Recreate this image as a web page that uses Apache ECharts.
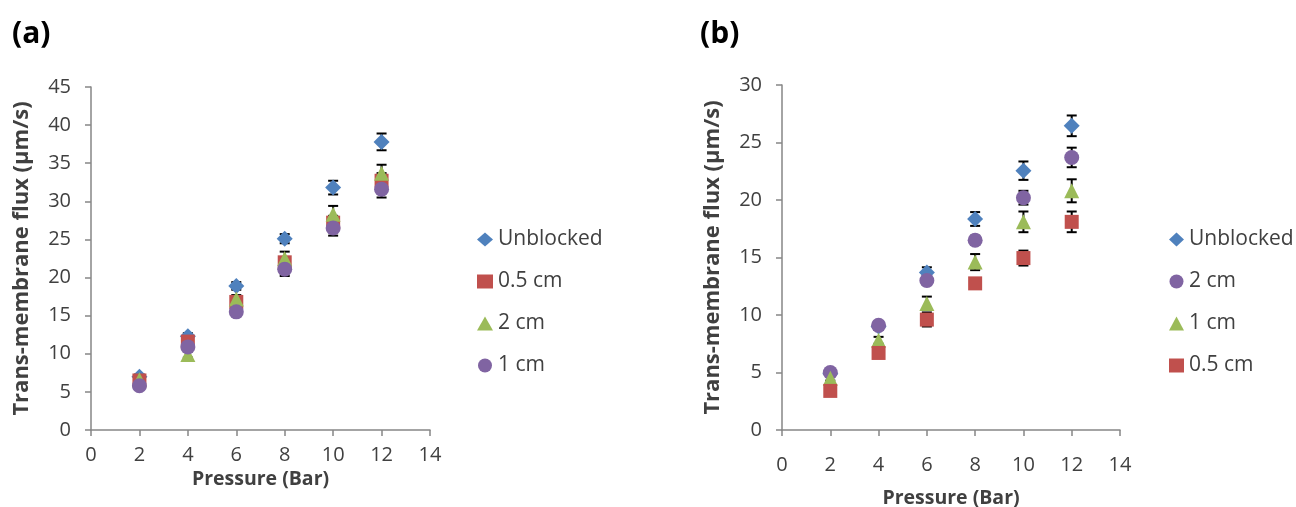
<!DOCTYPE html>
<html>
<head>
<meta charset="utf-8">
<script src="https://cdn.jsdelivr.net/npm/echarts@6/dist/echarts.min.js"></script>
<style>
  html, body { margin: 0; padding: 0; background: #fff; }
  #main { width: 1296px; height: 507px; }
</style>
</head>
<body>
<div id="main"></div>
<script>
// pressure (Bar)
var pressure = [2, 4, 6, 8, 10, 12];

// panel (a) flux values (um/s)
var aUnblocked = [7.0, 12.3, 18.9, 25.1, 31.8, 37.8];
var aHalf = [6.5, 11.6, 16.8, 22.0, 27.2, 32.7];
var aTwo = [6.6, 9.9, 17.2, 22.5, 28.3, 33.7];
var aOne = [5.8, 10.9, 15.5, 21.1, 26.5, 31.6];
// panel (a) error bars (+/-)
var aUnblockedErr = [0.3, 0.4, 0.5, 0.6, 0.9, 1.1];
var aHalfErr = [0.3, 0.4, 0.5, 0.7, 0.9, 1.0];
var aTwoErr = [0.3, 0.4, 0.5, 0.9, 1.1, 1.1];
var aOneErr = [0.3, 0.4, 0.5, 0.9, 1.0, 1.1];

// panel (b) flux values (um/s)
var bUnblocked = [4.9, 9.0, 13.7, 18.35, 22.55, 26.45];
var bTwo = [5.0, 9.1, 13.0, 16.5, 20.2, 23.7];
var bOne = [4.5, 7.8, 11.0, 14.6, 18.1, 20.8];
var bHalf = [3.4, 6.7, 9.6, 12.75, 14.95, 18.1];
// panel (b) error bars (+/-)
var bUnblockedErr = [0.2, 0.3, 0.45, 0.6, 0.8, 0.9];
var bTwoErr = [0.2, 0.3, 0.4, 0.4, 0.6, 0.85];
var bOneErr = [0.2, 0.3, 0.6, 0.7, 0.9, 1.0];
var bHalfErr = [0.2, 0.3, 0.6, 0.45, 0.65, 0.9];

var legendA = ['Unblocked', '0.5 cm', '2 cm', '1 cm'];
var legendB = ['Unblocked', '2 cm', '1 cm', '0.5 cm'];

var xTicks = { min: 0, max: 14, interval: 2 };

var FONT = 'Open Sans';
var BLUE = '#4F81BD', RED = '#C0504D', GREEN = '#9BBB59', PURPLE = '#8064A2';

// panel (b) series get a suffix so their legend icons are their own
var B_TAG = ' (b)';

function pts(vals) {
    var arr = [];
    for (var i = 0; i < pressure.length; i++) arr.push([pressure[i], vals[i]]);
    return arr;
}
function errPts(vals, err) {
    var arr = [];
    for (var i = 0; i < pressure.length; i++) arr.push([pressure[i], vals[i] - err[i], vals[i] + err[i]]);
    return arr;
}

// error bars drawn as custom series (named apart so legend uses the scatter icons)
function errBar(name, vals, err, idx) {
    return {
        name: name + ' err',
        type: 'custom',
        xAxisIndex: idx,
        yAxisIndex: idx,
        z: 1,
        silent: true,
        renderItem: function (params, api) {
            var lo = api.coord([api.value(0), api.value(1)]);
            var hi = api.coord([api.value(0), api.value(2)]);
            var w = 5;
            var st = { stroke: '#000', lineWidth: 2 };
            return {
                type: 'group',
                children: [
                    { type: 'line', shape: { x1: lo[0], y1: lo[1], x2: hi[0], y2: hi[1] }, style: st },
                    { type: 'line', shape: { x1: lo[0] - w, y1: lo[1], x2: lo[0] + w, y2: lo[1] }, style: st },
                    { type: 'line', shape: { x1: hi[0] - w, y1: hi[1], x2: hi[0] + w, y2: hi[1] }, style: st }
                ]
            };
        },
        encode: { x: 0, y: [1, 2] },
        data: errPts(vals, err)
    };
}

function scat(name, vals, idx, symbol, size, color) {
    return {
        name: name,
        type: 'scatter',
        xAxisIndex: idx,
        yAxisIndex: idx,
        z: 3,
        symbol: symbol,
        symbolSize: size,
        itemStyle: { color: color, opacity: 1 },
        data: pts(vals)
    };
}

var axisLineStyle = { lineStyle: { color: '#868686', width: 1.5 } };
var axisLabelStyle = { color: '#404040', fontFamily: FONT, fontSize: 20 };

function xAxisCfg(idx, labelMargin, nameGap) {
    return {
        gridIndex: idx, type: 'value', min: xTicks.min, max: xTicks.max, interval: xTicks.interval,
        name: 'Pressure (Bar)', nameLocation: 'middle', nameGap: nameGap,
        nameTextStyle: { color: '#404040', fontFamily: FONT, fontSize: 19.5, fontWeight: 'bold' },
        axisLine: axisLineStyle, axisTick: { show: true, length: 6, lineStyle: { color: '#868686', width: 1.5 } },
        axisLabel: Object.assign({ margin: labelMargin }, axisLabelStyle),
        splitLine: { show: false }
    };
}
function yAxisCfg(idx, max) {
    return {
        gridIndex: idx, type: 'value', min: 0, max: max, interval: 5,
        name: 'Trans-membrane flux (\u03bcm/s)', nameLocation: 'middle', nameGap: 58,
        nameTextStyle: { color: '#404040', fontFamily: FONT, fontSize: 22, fontWeight: 'bold' },
        axisLine: Object.assign({ show: true }, axisLineStyle),
        axisTick: { show: true, length: 6, lineStyle: { color: '#868686', width: 1.5 } },
        axisLabel: Object.assign({ margin: 20 }, axisLabelStyle),
        splitLine: { show: false }
    };
}

var myChart = echarts.init(document.getElementById('main'), null, { renderer: 'canvas' });

var legendText = { fontFamily: FONT, fontSize: 21, color: '#404040', lineHeight: 20 };

var option = {
    animation: false,
    backgroundColor: '#fff',
    title: [
        { text: '(a)', left: 7, top: 14, textStyle: { fontFamily: FONT, fontSize: 30, fontWeight: 'bold', color: '#000' } },
        { text: '(b)', left: 695, top: 14, textStyle: { fontFamily: FONT, fontSize: 30, fontWeight: 'bold', color: '#000' } }
    ],
    grid: [
        { left: 91, top: 87, width: 339, height: 343, outerBoundsMode: 'none' },
        { left: 782, top: 85, width: 338, height: 345, outerBoundsMode: 'none' }
    ],
    xAxis: [xAxisCfg(0, 15, 31), xAxisCfg(1, 25, 58)],
    yAxis: [yAxisCfg(0, 45), yAxisCfg(1, 30)],
    legend: [
        {
            orient: 'vertical', left: 472, top: 224, itemGap: 21, itemWidth: 16, itemHeight: 14,
            textStyle: legendText,
            data: legendA
        },
        {
            orient: 'vertical', left: 1164, top: 224, itemGap: 21, itemWidth: 15, itemHeight: 14,
            textStyle: legendText,
            formatter: function (n) { return n.replace(B_TAG, ''); },
            data: legendB.map(function (n) { return n + B_TAG; })
        }
    ],
    series: [
        // panel (a)
        errBar('Unblocked', aUnblocked, aUnblockedErr, 0),
        errBar('0.5 cm', aHalf, aHalfErr, 0),
        errBar('2 cm', aTwo, aTwoErr, 0),
        errBar('1 cm', aOne, aOneErr, 0),
        scat('Unblocked', aUnblocked, 0, 'diamond', 16, BLUE),
        scat('0.5 cm', aHalf, 0, 'rect', 14, RED),
        scat('2 cm', aTwo, 0, 'triangle', 15, GREEN),
        scat('1 cm', aOne, 0, 'circle', 15, PURPLE),
        // panel (b)
        errBar('Unblocked' + B_TAG, bUnblocked, bUnblockedErr, 1),
        errBar('2 cm' + B_TAG, bTwo, bTwoErr, 1),
        errBar('1 cm' + B_TAG, bOne, bOneErr, 1),
        errBar('0.5 cm' + B_TAG, bHalf, bHalfErr, 1),
        scat('Unblocked' + B_TAG, bUnblocked, 1, 'diamond', 16, BLUE),
        scat('2 cm' + B_TAG, bTwo, 1, 'circle', 15, PURPLE),
        scat('1 cm' + B_TAG, bOne, 1, 'triangle', 15, GREEN),
        scat('0.5 cm' + B_TAG, bHalf, 1, 'rect', 14, RED)
    ]
};

myChart.setOption(option);
</script>
</body>
</html>
